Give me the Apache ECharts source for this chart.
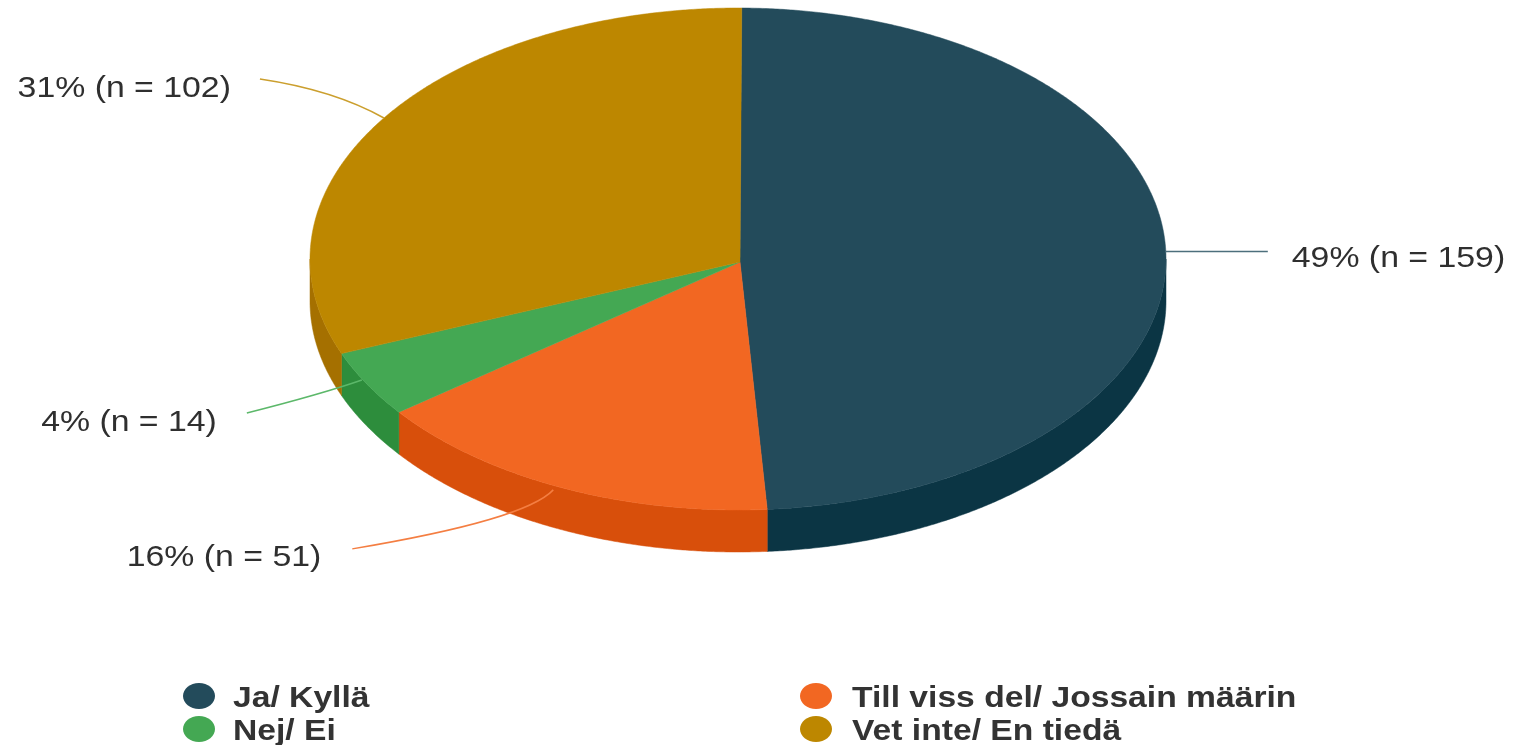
<!DOCTYPE html>
<html>
<head>
<meta charset="utf-8">
<style>html,body{margin:0;padding:0;background:#fff}#c{width:1515px;height:745px}</style>
<script src="https://cdn.jsdelivr.net/npm/echarts@6/dist/echarts.min.js"></script>
</head>
<body>
<div id="c"></div>
<script>
var categories = ['Ja/ Kyllä', 'Till viss del/ Jossain määrin', 'Nej/ Ei', 'Vet inte/ En tiedä'];
var counts = [159, 51, 14, 102];
var topColors = ['#234b5b', '#f26722', '#44a853', '#bd8700'];
var sideColors = ['#0b3544', '#d84f0b', '#2d8d3c', '#a57000'];
var leaderColors = ['#4d6f7c', '#f47e42', '#5cb86a', '#cb9f2e'];

// Layout of the tilted pie
var CX = 738, CY = 259, RX = 428, RY = 251, DEPTH = 42, APEX_X = 740, APEX_Y = 262;
var TILT = 0.5 * Math.PI / 180;
// leader start nudge from rim anchor, end and curve control relative to start, label relative to end
var leaderLayout = [
  {ax: 0, ay: 0, ex: 102, ey: 0, cx: 30, cy: 0, lx: 24, ly: 7, align: 'left'},
  {ax: -9, ay: 2, ex: -201, ey: 59, cx: -28, cy: 30, lx: -31, ly: 9, align: 'right'},
  {ax: -5, ay: -4, ex: -115, ey: 33, cx: -40, cy: 14, lx: -30, ly: 10, align: 'right'},
  {ax: 0, ay: 0, ex: -124, ey: -39, cx: -50, cy: -28, lx: -29, ly: 10, align: 'right'}
];
// Legend layout: slot per category
var legendLayout = [
  {x: 183, y: 696, t: 233}, {x: 800, y: 696, t: 852},
  {x: 183, y: 729, t: 233}, {x: 800, y: 729, t: 852}
];
var LABEL_FONT = '30px "Liberation Sans", Arial, sans-serif';
var LEGEND_FONT = 'bold 29px "Liberation Sans", Arial, sans-serif';

var total = counts.reduce(function (a, b) { return a + b; }, 0);
function startOf(i) {
  var s = 0;
  for (var k = 0; k < i; k++) s += counts[k];
  return s / total * Math.PI * 2 + TILT;
}
function rim(a, dy) {
  return [CX + RX * Math.sin(a), CY - RY * Math.cos(a) + (dy || 0)];
}
function arc(a0, a1, dy) {
  var pts = [], n = Math.max(2, Math.ceil((a1 - a0) / 0.006));
  for (var i = 0; i <= n; i++) pts.push(rim(a0 + (a1 - a0) * i / n, dy));
  return pts;
}

function renderSlice(params, api) {
  var i = params.seriesIndex;
  var value = api.value(0);
  var a0 = startOf(i), a1 = a0 + value / total * Math.PI * 2;
  var children = [];
  var w0 = Math.max(a0, Math.PI / 2), w1 = Math.min(a1, Math.PI * 1.5);
  if (w1 > w0) {
    children.push({
      type: 'polygon',
      shape: {points: arc(w0, w1, 0).concat(arc(w0, w1, DEPTH).reverse())},
      style: {fill: sideColors[i], stroke: sideColors[i], lineWidth: 0.5},
      z2: 1
    });
  }
  children.push({
    type: 'polygon',
    shape: {points: [[APEX_X, APEX_Y]].concat(arc(a0, a1, 0))},
    style: {fill: topColors[i], stroke: topColors[i], lineWidth: 0.5},
    z2: 2
  });
  var mid = (a0 + a1) / 2, r = rim(mid, 0), l = leaderLayout[i];
  var sx = r[0] + l.ax, sy = r[1] + l.ay;
  var endX = sx + l.ex, endY = sy + l.ey;
  children.push({
    type: 'bezierCurve',
    shape: {x1: sx, y1: sy, x2: endX, y2: endY, cpx1: sx + l.cx, cpy1: sy + l.cy},
    style: {fill: null, stroke: leaderColors[i], lineWidth: 1.5},
    z2: 3
  });
  children.push({
    type: 'text',
    x: endX + l.lx, y: endY + l.ly, scaleX: 1.127,
    style: {
      text: Math.round(value / total * 100) + '% (n = ' + value + ')',
      x: 0, y: 0, align: l.align, verticalAlign: 'middle',
      font: LABEL_FONT, fill: '#2f2f2f'
    },
    z2: 4
  });
  var g = legendLayout[i];
  children.push({
    type: 'ellipse',
    shape: {cx: g.x + 16, cy: g.y, rx: 16, ry: 13},
    style: {fill: topColors[i]},
    z2: 4
  });
  children.push({
    type: 'text',
    x: g.t, y: g.y + 3, scaleX: 1.16,
    style: {
      text: categories[i], x: 0, y: 0, align: 'left', verticalAlign: 'middle',
      font: LEGEND_FONT, fill: '#333333'
    },
    z2: 4
  });
  return {type: 'group', children: children};
}

var chart = echarts.init(document.getElementById('c'), null, {renderer: 'canvas'});
chart.setOption({
  animation: false,
  backgroundColor: '#ffffff',
  tooltip: {show: false},
  series: categories.map(function (name, i) {
    return {
      type: 'custom', name: name, coordinateSystem: 'none',
      silent: true, clip: false,
      itemStyle: {color: topColors[i]},
      data: [[counts[i]]],
      renderItem: renderSlice
    };
  })
});
</script>
</body>
</html>
